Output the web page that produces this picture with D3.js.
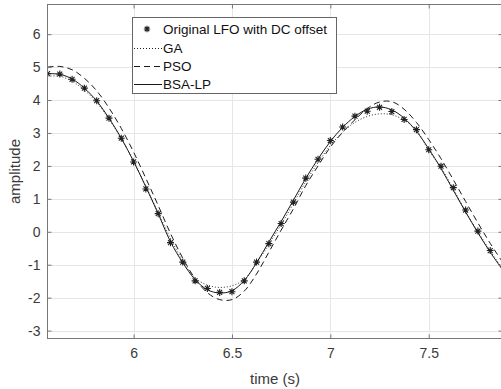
<!DOCTYPE html>
<html>
<head>
<meta charset="utf-8">
<script src="https://cdn.jsdelivr.net/npm/d3@7"></script>
<style>
  body { margin: 0; background: #fff; }
  svg { display: block; font-family: "Liberation Sans", Arial, sans-serif; }
</style>
</head>
<body>
<div id="chart"></div>
<script>
var width = 501;
var height = 389;

// sample times (s)
var times = [5.5625, 5.625, 5.6875, 5.75, 5.8125, 5.875, 5.9375, 6.0, 6.0625, 6.125,
  6.1875, 6.25, 6.3125, 6.375, 6.4375, 6.5, 6.5625, 6.625, 6.6875, 6.75,
  6.8125, 6.875, 6.9375, 7.0, 7.0625, 7.125, 7.1875, 7.25, 7.3125, 7.375,
  7.4375, 7.5, 7.5625, 7.625, 7.6875, 7.75, 7.8125];
// times for the fitted curves (one more point past the right edge)
var curveTimes = times.concat([7.875]);

var original = [4.80, 4.79, 4.63, 4.36, 3.98, 3.45, 2.84, 2.12, 1.30, 0.55,
  -0.33, -0.92, -1.49, -1.72, -1.84, -1.82, -1.49, -0.92, -0.36, 0.25,
  0.90, 1.63, 2.20, 2.77, 3.18, 3.51, 3.66, 3.78, 3.65, 3.41,
  3.10, 2.49, 1.99, 1.34, 0.66, 0.02, -0.57];

var ga = [4.72, 4.72, 4.57, 4.30, 3.93, 3.42, 2.83, 2.14, 1.38, 0.58,
  -0.20, -0.88, -1.40, -1.62, -1.69, -1.64, -1.45, -0.95, -0.38, 0.22,
  0.86, 1.52, 2.10, 2.62, 3.02, 3.32, 3.50, 3.58, 3.55, 3.39,
  3.08, 2.47, 1.95, 1.30, 0.62, 0.0, -0.58, -1.12];

var pso = [5.00, 5.02, 4.92, 4.66, 4.28, 3.76, 3.14, 2.42, 1.62, 0.80,
  -0.05, -0.80, -1.42, -1.85, -2.06, -2.06, -1.80, -1.28, -0.62, 0.05,
  0.70, 1.40, 2.00, 2.57, 3.02, 3.40, 3.74, 3.94, 3.95, 3.72,
  3.32, 2.80, 2.22, 1.58, 0.92, 0.27, -0.35, -0.92];

var bsa = [4.80, 4.78, 4.64, 4.36, 3.97, 3.45, 2.84, 2.14, 1.36, 0.55,
  -0.30, -0.94, -1.45, -1.76, -1.86, -1.79, -1.48, -0.94, -0.31, 0.31,
  0.96, 1.62, 2.21, 2.74, 3.17, 3.50, 3.72, 3.79, 3.70, 3.45,
  3.05, 2.52, 1.92, 1.26, 0.60, -0.03, -0.62, -1.15];

var xTicks = [6, 6.5, 7, 7.5];
var yTicks = [-3, -2, -1, 0, 1, 2, 3, 4, 5, 6];
var legendLabels = ["Original LFO with DC offset", "GA", "PSO", "BSA-LP"];

var plot = { left: 47.5, right: 502.5, top: 4.5, bottom: 338.5 };

var x = d3.scaleLinear().domain([5.5625, 7.875]).range([plot.left, plot.right]);
var y = d3.scaleLinear().domain([-3.24, 6.9]).range([plot.bottom, plot.top]);

var svg = d3.select("#chart").append("svg")
  .attr("width", width)
  .attr("height", height);

svg.append("defs").append("clipPath").attr("id", "clip")
  .append("rect")
  .attr("x", plot.left).attr("y", plot.top)
  .attr("width", plot.right - plot.left).attr("height", plot.bottom - plot.top);

// grid
var grid = svg.append("g").attr("stroke", "#e6e6e6").attr("stroke-width", 1);
grid.selectAll(".gx").data(xTicks).enter().append("line")
  .attr("x1", function (d) { return Math.round(x(d)) + 0.5; })
  .attr("x2", function (d) { return Math.round(x(d)) + 0.5; })
  .attr("y1", plot.top).attr("y2", plot.bottom);
grid.selectAll(".gy").data(yTicks).enter().append("line")
  .attr("y1", function (d) { return Math.round(y(d)) + 0.5; })
  .attr("y2", function (d) { return Math.round(y(d)) + 0.5; })
  .attr("x1", plot.left).attr("x2", plot.right);

// curves
var lines = svg.append("g").attr("clip-path", "url(#clip)");

function curvePoints(vals) {
  return curveTimes.map(function (t, i) { return [t, vals[i]]; });
}

var line = d3.line()
  .x(function (d) { return x(d[0]); })
  .y(function (d) { return y(d[1]); })
  .curve(d3.curveCatmullRom.alpha(0.5));

lines.append("path").datum(curvePoints(ga))
  .attr("d", line).attr("fill", "none")
  .attr("stroke", "#333").attr("stroke-width", 1)
  .attr("stroke-dasharray", "1,2");

lines.append("path").datum(curvePoints(pso))
  .attr("d", line).attr("fill", "none")
  .attr("stroke", "#1a1a1a").attr("stroke-width", 1)
  .attr("stroke-dasharray", "6,4");

lines.append("path").datum(curvePoints(bsa))
  .attr("d", line).attr("fill", "none")
  .attr("stroke", "#1a1a1a").attr("stroke-width", 1);

// asterisk marker
function starPath(cx, cy, r) {
  var d = r * 0.7071;
  return "M" + (cx - r) + "," + cy + "L" + (cx + r) + "," + cy +
    "M" + cx + "," + (cy - r) + "L" + cx + "," + (cy + r) +
    "M" + (cx - d) + "," + (cy - d) + "L" + (cx + d) + "," + (cy + d) +
    "M" + (cx - d) + "," + (cy + d) + "L" + (cx + d) + "," + (cy - d);
}

lines.selectAll(".star").data(times).enter().append("path")
  .attr("d", function (t, i) { return starPath(x(t), y(original[i]), 3.5); })
  .attr("fill", "none")
  .attr("stroke", "#222")
  .attr("stroke-width", 1.1);

// axes box
var axisColor = "#777";
svg.append("rect")
  .attr("x", plot.left).attr("y", plot.top)
  .attr("width", plot.right - plot.left).attr("height", plot.bottom - plot.top)
  .attr("fill", "none").attr("stroke", axisColor).attr("stroke-width", 1);

var tickLen = 4;
var xAxisB = d3.axisBottom(x).tickValues(xTicks).tickSizeInner(-tickLen).tickSizeOuter(0)
  .tickFormat(d3.format("~g"));
var gxb = svg.append("g").attr("transform", "translate(0," + plot.bottom + ")").call(xAxisB);
var gxt = svg.append("g").attr("transform", "translate(0," + plot.top + ")")
  .call(d3.axisTop(x).tickValues(xTicks).tickSizeInner(-tickLen).tickSizeOuter(0).tickFormat(""));
var yAxisL = d3.axisLeft(y).tickValues(yTicks).tickSizeInner(-tickLen).tickSizeOuter(0)
  .tickFormat(d3.format("d"));
var gyl = svg.append("g").attr("transform", "translate(" + plot.left + ",0)").call(yAxisL);
var gyr = svg.append("g").attr("transform", "translate(" + plot.right + ",0)")
  .call(d3.axisRight(y).tickValues(yTicks).tickSizeInner(-tickLen).tickSizeOuter(0).tickFormat(""));

[gxb, gxt, gyl, gyr].forEach(function (g) {
  g.select(".domain").remove();
  g.selectAll(".tick line").attr("stroke", axisColor);
});
gxb.selectAll(".tick text")
  .attr("y", 10).attr("dy", "0.71em")
  .attr("fill", "#3a3a3a").style("font-size", "14px")
  .style("font-family", "'Liberation Sans', Arial, sans-serif");
gyl.selectAll(".tick text")
  .attr("x", -7)
  .attr("fill", "#3a3a3a").style("font-size", "14px")
  .style("font-family", "'Liberation Sans', Arial, sans-serif")
  .text(function (d) { return d < 0 ? "-" + Math.abs(d) : d; });

// axis labels
svg.append("text")
  .attr("x", (plot.left + plot.right) / 2)
  .attr("y", 383.5)
  .attr("text-anchor", "middle")
  .attr("fill", "#3a3a3a")
  .style("font-size", "15px")
  .text("time (s)");

svg.append("text")
  .attr("transform", "translate(20," + ((plot.top + plot.bottom) / 2) + ") rotate(-90)")
  .attr("text-anchor", "middle")
  .attr("fill", "#3a3a3a")
  .style("font-size", "15px")
  .text("amplitude");

// legend
var leg = svg.append("g");
leg.append("rect")
  .attr("x", 132.5).attr("y", 17.5)
  .attr("width", 204).attr("height", 76)
  .attr("fill", "#fff").attr("stroke", "#666").attr("stroke-width", 1);

var rowY = [29, 48, 66, 84];
var styles = [null, "1,2", "6,4", null];

legendLabels.forEach(function (lab, i) {
  var yy = rowY[i];
  if (i === 0) {
    leg.append("path").attr("d", starPath(147, yy, 3.2))
      .attr("stroke", "#222").attr("stroke-width", 1.1).attr("fill", "none");
  } else {
    leg.append("line")
      .attr("x1", 134).attr("x2", 162)
      .attr("y1", yy + 0.5).attr("y2", yy + 0.5)
      .attr("stroke", "#1a1a1a").attr("stroke-width", 1)
      .attr("stroke-dasharray", styles[i]);
  }
  leg.append("text")
    .attr("x", 163).attr("y", yy)
    .attr("dy", "0.35em")
    .attr("fill", "#111")
    .style("font-size", "13.5px")
    .text(lab);
});
</script>
</body>
</html>
